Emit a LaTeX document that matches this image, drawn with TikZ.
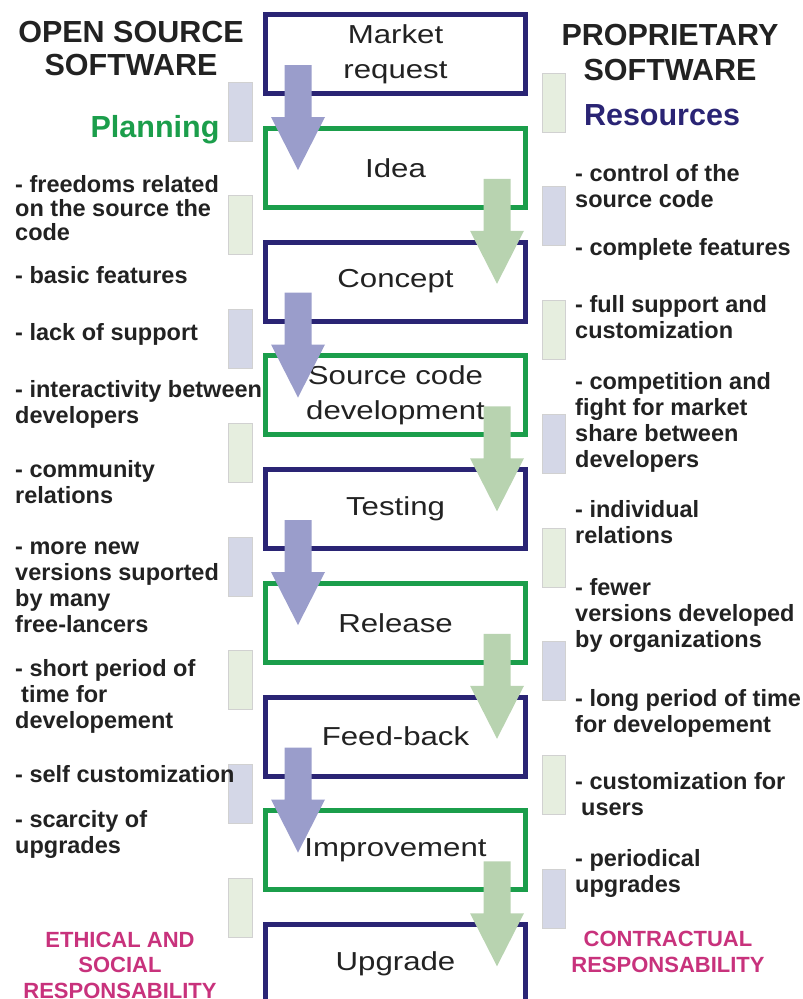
\documentclass[tikz,border=0pt]{standalone}
\usepackage{fontspec}
\setmainfont{Liberation Sans}
\newfontfamily\stagefont{Liberation Sans}[FakeStretch=1.2]
\usetikzlibrary{positioning, calc}

\definecolor{navyline}{HTML}{2A2474}
\definecolor{greenline}{HTML}{1B9E4B}
\definecolor{lavarrow}{HTML}{9A9DCB}
\definecolor{mintarrow}{HTML}{B8D3B0}
\definecolor{lavbar}{HTML}{D4D7E7}
\definecolor{mintbar}{HTML}{E6EEDF}
\definecolor{respink}{HTML}{C8327C}
\definecolor{itemgray}{HTML}{222222}

\begin{document}
\begin{tikzpicture}[
  x=1pt, y=-1pt,
  stagebox/.style={draw, line width=5pt, outer sep=0pt, minimum width=260pt, minimum height=79pt,
    align=center, text=itemgray, font=\stagefont\fontsize{26}{35}\selectfont},
  navybox/.style={stagebox, draw=navyline},
  greenbox/.style={stagebox, draw=greenline},
  headtitle/.style={anchor=base, align=center, inner sep=0pt, text=itemgray,
    font=\bfseries\fontsize{30.5}{34}\selectfont},
  resptitle/.style={anchor=base, align=center, inner sep=0pt, text=respink,
    font=\bfseries\fontsize{22}{25.5}\selectfont},
  sideitem/.style={anchor=base west, align=left, inner sep=0pt, text=itemgray,
    font=\bfseries\fontsize{23.5}{26}\selectfont},
  legendbar/.style={draw=black!18, line width=0.6pt}
]
  \useasboundingbox (0,0) rectangle (803,999);

  % Stages of the development cycle
  \node[navybox] (market) at (395.5,54) {Market\\request};
  \node[greenbox, below=34.75pt of market] (idea) {Idea};
  \node[navybox, below=34.75pt of idea] (concept) {Concept};
  \node[greenbox, below=34.75pt of concept] (srcdev) {Source code\\development};
  \node[navybox, below=34.75pt of srcdev] (testing) {Testing};
  \node[greenbox, below=34.75pt of testing] (release) {Release};
  \node[navybox, below=34.75pt of release] (feedback) {Feed-back};
  \node[greenbox, below=34.75pt of feedback] (improve) {Improvement};
  \node[navybox, below=34.75pt of improve] (upgrade) {Upgrade};

  % Block arrows from one stage to the next
  \foreach \from/\dx/\col in {market/-97.5/lavarrow, idea/101.5/mintarrow,
      concept/-97.5/lavarrow, srcdev/101.5/mintarrow, testing/-97.5/lavarrow,
      release/101.5/mintarrow, feedback/-97.5/lavarrow, improve/101.5/mintarrow}
    \fill[\col] ($(\from.center)+(\dx-13.5,11)$) -- ++(27,0) -- ++(0,52) -- ++(13.5,0)
      -- ++(-27,53) -- ++(-27,-53) -- ++(13.5,0) -- cycle;

  % Legend bars beside the column
  \foreach \k/\lc/\rc in {0/lavbar/mintbar, 1/mintbar/lavbar, 2/lavbar/mintbar, 3/mintbar/lavbar,
      4/lavbar/mintbar, 5/mintbar/lavbar, 6/lavbar/mintbar, 7/mintbar/lavbar} {
    \filldraw[legendbar, fill=\lc] (228,{82+113.7*\k}) rectangle ++(24,59);
    \filldraw[legendbar, fill=\rc] (542,{73+113.7*\k}) rectangle ++(23,59);
  }

  % Titles (base = last line)
  \node[headtitle, font=\bfseries\fontsize{30.5}{33}\selectfont] (osstitle) at (131,75) {OPEN SOURCE\\SOFTWARE};
  \node[headtitle, font=\bfseries\fontsize{30.5}{35}\selectfont] (proptitle) at (670,80) {PROPRIETARY\\SOFTWARE};
  \node[headtitle, text=greenline] (planning) at (155,137) {Planning};
  \node[headtitle, text=navyline] (resources) at (662,125) {Resources};

  % Open source side
  \node[sideitem, font=\bfseries\fontsize{23.5}{24}\selectfont] (oss1) at (15,240) {- freedoms related\\on the source the\\code};
  \node[sideitem] (oss2) at (15,283) {- basic features};
  \node[sideitem] (oss3) at (15,340) {- lack of support};
  \node[sideitem] (oss4) at (15,423) {- interactivity between\\developers};
  \node[sideitem] (oss5) at (15,503) {- community\\relations};
  \node[sideitem] (oss6) at (15,632) {- more new\\versions suported\\by many\\free-lancers};
  \node[sideitem] (oss7) at (15,728) {- short period of\\\hspace*{6pt}time for\\developement};
  \node[sideitem] (oss8) at (15,782) {- self customization};
  \node[sideitem] (oss9) at (15,853) {- scarcity of\\upgrades};

  % Proprietary side
  \node[sideitem] (prop1) at (575,207) {- control of the\\source code};
  \node[sideitem] (prop2) at (575,255) {- complete features};
  \node[sideitem] (prop3) at (575,338) {- full support and\\customization};
  \node[sideitem] (prop4) at (575,467) {- competition and\\fight for market\\share between\\developers};
  \node[sideitem] (prop5) at (575,543) {- individual\\relations};
  \node[sideitem] (prop6) at (575,647) {- fewer\\versions developed\\by organizations};
  \node[sideitem] (prop7) at (575,732) {- long period of time\\for developement};
  \node[sideitem] (prop8) at (575,815) {- customization for\\\hspace*{6pt}users};
  \node[sideitem] (prop9) at (575,892) {- periodical\\upgrades};

  % Responsability notes
  \node[resptitle] (ethical) at (120,998) {ETHICAL AND\\SOCIAL\\RESPONSABILITY};
  \node[resptitle] (contract) at (668,972) {CONTRACTUAL\\RESPONSABILITY};
\end{tikzpicture}
\end{document}
